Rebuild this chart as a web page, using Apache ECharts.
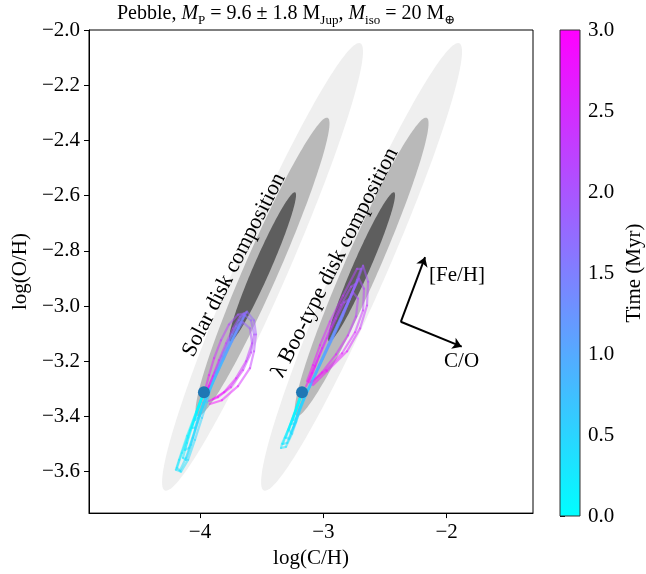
<!DOCTYPE html>
<html><head><meta charset="utf-8">
<script src="https://cdn.jsdelivr.net/npm/echarts@6/dist/echarts.min.js"></script>
<style>html,body{margin:0;padding:0;background:#fff}#c{width:646px;height:574px}</style>
</head><body><div id="c"></div>
<script>
// ---------- data ----------
const xTicks = [-4, -3, -2];
const yTicks = [-3.6, -3.4, -3.2, -3.0, -2.8, -2.6, -2.4, -2.2, -2.0];
const timeRange = [0, 3];
const timeTicks = [0, 0.5, 1, 1.5, 2, 2.5, 3];

// composition ellipses (center, 1-sigma conjugate semi-axes in data units)
const ellipseCenters = [[-3.493, -2.858], [-2.69, -2.858]];
const ellipseMajor = [0.264, 0.270];
const ellipseMinor = [0.0633, -0.0122];
const sigmaLevels = [3, 2, 1];

const planetStart = [[-3.968, -3.312], [-3.173, -3.312]];

// trajectories [logC/H, logO/H, time Myr]
const solarTrackA = [[-3.968,-3.312,0],[-4.016,-3.369,0.08],[-4.081,-3.449,0.16],[-4.146,-3.532,0.24],[-4.187,-3.586,0.3],[-4.162,-3.596,0.34],[-4.114,-3.550,0.4],[-4.057,-3.477,0.46],[-4.000,-3.398,0.53],[-3.951,-3.333,0.6],[-3.919,-3.297,0.65],[-3.854,-3.232,0.85],[-3.781,-3.160,1.05],[-3.708,-3.095,1.25],[-3.651,-3.045,1.45],[-3.619,-3.020,1.65],[-3.562,-3.052,1.85],[-3.546,-3.103,2.0],[-3.562,-3.164,2.2],[-3.595,-3.225,2.4],[-3.692,-3.290,2.6],[-3.822,-3.341,2.8],[-3.919,-3.355,3.0]];
const solarTrackB = [[-3.968,-3.312,0],[-4.008,-3.362,0.08],[-4.057,-3.427,0.16],[-4.105,-3.496,0.24],[-4.122,-3.521,0.3],[-4.089,-3.514,0.35],[-4.041,-3.449,0.42],[-3.992,-3.384,0.5],[-3.943,-3.326,0.6],[-3.903,-3.283,0.75],[-3.830,-3.211,0.95],[-3.757,-3.139,1.15],[-3.692,-3.077,1.35],[-3.643,-3.034,1.55],[-3.627,-3.023,1.7],[-3.676,-3.038,1.9],[-3.732,-3.081,2.1],[-3.789,-3.135,2.3],[-3.846,-3.196,2.5],[-3.895,-3.254,2.7],[-3.935,-3.297,2.9],[-3.959,-3.319,3.0]];
const solarTrackC = [[-3.968,-3.312,0],[-4.000,-3.351,0.1],[-4.041,-3.405,0.2],[-4.065,-3.441,0.28],[-4.041,-3.441,0.33],[-4.008,-3.398,0.42],[-3.968,-3.348,0.52],[-3.927,-3.312,0.62],[-3.895,-3.276,0.8],[-3.813,-3.196,1.0],[-3.740,-3.128,1.2],[-3.684,-3.081,1.45],[-3.651,-3.059,1.7],[-3.595,-3.081,1.95],[-3.578,-3.135,2.2],[-3.627,-3.200,2.4],[-3.708,-3.261,2.6],[-3.805,-3.312,2.8],[-3.895,-3.337,3.0]];
const solarTrackD = [[-3.968,-3.312,0],[-4.024,-3.376,0.1],[-4.097,-3.477,0.2],[-4.138,-3.550,0.28],[-4.114,-3.557,0.32],[-4.073,-3.503,0.4],[-4.024,-3.423,0.48],[-3.976,-3.351,0.58],[-3.911,-3.290,0.7],[-3.846,-3.225,0.9],[-3.773,-3.153,1.1],[-3.708,-3.095,1.35],[-3.667,-3.059,1.6],[-3.708,-3.074,1.85],[-3.765,-3.124,2.1],[-3.822,-3.182,2.35],[-3.878,-3.240,2.6],[-3.927,-3.290,2.85],[-3.951,-3.312,3.0]];
const solarTrackE = [[-3.968,-3.312,0],[-3.992,-3.341,0.1],[-4.024,-3.384,0.2],[-4.041,-3.413,0.26],[-4.016,-3.405,0.3],[-3.976,-3.362,0.38],[-3.935,-3.319,0.5],[-3.878,-3.261,0.7],[-3.805,-3.189,0.9],[-3.732,-3.117,1.1],[-3.676,-3.067,1.35],[-3.635,-3.034,1.6],[-3.586,-3.052,1.8],[-3.562,-3.103,2.0],[-3.586,-3.168,2.2],[-3.651,-3.232,2.4],[-3.749,-3.294,2.6],[-3.854,-3.330,2.8],[-3.927,-3.344,3.0]];
const solarTrackF = [[-3.968,-3.312,0],[-4.032,-3.384,0.08],[-4.105,-3.470,0.16],[-4.170,-3.557,0.24],[-4.195,-3.593,0.3],[-4.154,-3.600,0.33],[-4.097,-3.557,0.38],[-4.041,-3.485,0.45],[-3.984,-3.405,0.52],[-3.943,-3.348,0.6],[-3.919,-3.305,0.7],[-3.870,-3.240,0.9],[-3.805,-3.168,1.1],[-3.740,-3.103,1.3],[-3.684,-3.052,1.5],[-3.643,-3.027,1.75],[-3.692,-3.031,1.95],[-3.765,-3.067,2.15],[-3.830,-3.124,2.35],[-3.886,-3.189,2.55],[-3.927,-3.250,2.75],[-3.959,-3.305,3.0]];
const booTrackA = [[-3.173,-3.312,0],[-3.213,-3.362,0.08],[-3.270,-3.431,0.16],[-3.311,-3.477,0.24],[-3.327,-3.499,0.3],[-3.294,-3.496,0.34],[-3.246,-3.441,0.42],[-3.197,-3.376,0.5],[-3.148,-3.326,0.6],[-3.092,-3.272,0.75],[-3.019,-3.204,0.95],[-2.938,-3.128,1.15],[-2.856,-3.049,1.35],[-2.784,-2.973,1.55],[-2.727,-2.912,1.75],[-2.678,-2.854,1.95],[-2.637,-2.912,2.1],[-2.646,-2.998,2.3],[-2.702,-3.081,2.45],[-2.808,-3.164,2.6],[-2.970,-3.236,2.8],[-3.084,-3.286,3.0]];
const booTrackB = [[-3.173,-3.312,0],[-3.205,-3.355,0.08],[-3.246,-3.405,0.16],[-3.278,-3.449,0.24],[-3.262,-3.459,0.3],[-3.221,-3.420,0.38],[-3.181,-3.362,0.48],[-3.140,-3.319,0.58],[-3.075,-3.261,0.75],[-3.002,-3.189,0.95],[-2.921,-3.114,1.15],[-2.840,-3.034,1.35],[-2.775,-2.962,1.55],[-2.727,-2.905,1.75],[-2.694,-2.865,1.9],[-2.727,-2.865,2.05],[-2.840,-2.962,2.3],[-2.946,-3.056,2.5],[-3.027,-3.142,2.7],[-3.084,-3.214,2.85],[-3.132,-3.272,3.0]];
const booTrackC = [[-3.173,-3.312,0],[-3.197,-3.344,0.1],[-3.230,-3.387,0.2],[-3.246,-3.413,0.28],[-3.221,-3.409,0.34],[-3.189,-3.369,0.44],[-3.148,-3.326,0.56],[-3.084,-3.268,0.75],[-3.011,-3.196,0.95],[-2.929,-3.117,1.2],[-2.856,-3.045,1.45],[-2.792,-2.980,1.7],[-2.759,-2.951,1.9],[-2.719,-2.973,2.1],[-2.735,-3.038,2.3],[-2.800,-3.106,2.45],[-2.897,-3.175,2.6],[-3.011,-3.240,2.8],[-3.100,-3.283,3.0]];
const booTrackD = [[-3.173,-3.312,0],[-3.221,-3.369,0.1],[-3.278,-3.441,0.2],[-3.303,-3.477,0.27],[-3.278,-3.481,0.32],[-3.238,-3.434,0.4],[-3.189,-3.369,0.5],[-3.148,-3.323,0.6],[-3.100,-3.279,0.75],[-3.035,-3.214,0.95],[-2.962,-3.142,1.15],[-2.889,-3.070,1.4],[-2.824,-3.009,1.65],[-2.784,-2.973,1.85],[-2.832,-2.987,2.05],[-2.897,-3.045,2.25],[-2.970,-3.117,2.45],[-3.035,-3.182,2.65],[-3.092,-3.243,2.85],[-3.140,-3.290,3.0]];
const booTrackE = [[-3.173,-3.312,0],[-3.197,-3.348,0.1],[-3.238,-3.398,0.2],[-3.262,-3.427,0.26],[-3.238,-3.427,0.31],[-3.197,-3.380,0.4],[-3.157,-3.333,0.52],[-3.108,-3.290,0.7],[-3.043,-3.225,0.9],[-2.970,-3.153,1.1],[-2.889,-3.074,1.35],[-2.816,-3.002,1.6],[-2.751,-2.937,1.85],[-2.711,-2.901,2.0],[-2.670,-2.937,2.15],[-2.678,-3.016,2.35],[-2.743,-3.095,2.5],[-2.848,-3.171,2.65],[-2.978,-3.232,2.8],[-3.100,-3.276,3.0]];
const booTrackF = [[-3.173,-3.312,0],[-3.221,-3.377,0.08],[-3.286,-3.449,0.16],[-3.335,-3.499,0.24],[-3.343,-3.514,0.3],[-3.303,-3.510,0.34],[-3.254,-3.463,0.4],[-3.205,-3.398,0.48],[-3.157,-3.341,0.58],[-3.116,-3.297,0.7],[-3.059,-3.240,0.9],[-2.986,-3.168,1.1],[-2.913,-3.095,1.3],[-2.840,-3.023,1.5],[-2.775,-2.959,1.7],[-2.735,-2.919,1.85],[-2.775,-2.930,2.0],[-2.856,-2.995,2.2],[-2.938,-3.074,2.4],[-3.011,-3.153,2.6],[-3.067,-3.218,2.8],[-3.116,-3.276,3.0]];

const annotations = [
  {name: 'Solar disk composition', value: [-3.724, -2.851]},
  {name: 'λ Boo-type disk composition', value: [-2.905, -2.843]}
];
const arrowOrigin = [-2.372, -3.057];
const feHTip = [-2.175, -2.823];
const coTip = [-1.878, -3.147];
const arrowLabels = [
  {name: '[Fe/H]', value: [-1.916, -2.890]},
  {name: 'C/O', value: [-1.879, -3.200]}
];

// ---------- chart ----------
const F = "'Liberation Serif', 'DejaVu Serif', serif";
const fmtNeg = d => v => (v < 0 ? '\u2212' : '') + Math.abs(v).toFixed(d);

const ellipseData = [];
const greys = {3: '#efefef', 2: '#b9b9b9', 1: '#5e5e5e'};
sigmaLevels.forEach(s => ellipseCenters.forEach(c => ellipseData.push([c[0], c[1], s])));

function segments(track) {
  const out = [];
  for (let i = 1; i < track.length; i++) {
    const a = track[i - 1], b = track[i];
    out.push([a[0], a[1], (a[2] + b[2]) / 2, b[0], b[1]]);
  }
  return out;
}
const segData = [].concat(
  segments(solarTrackA), segments(solarTrackB), segments(solarTrackC), segments(solarTrackD),
  segments(solarTrackE), segments(solarTrackF),
  segments(booTrackA), segments(booTrackB), segments(booTrackC), segments(booTrackD),
  segments(booTrackE), segments(booTrackF)
);

const chart = echarts.init(document.getElementById('c'), null, {renderer: 'canvas'});
chart.setOption({
  animation: false,
  backgroundColor: '#fff',
  title: {
    left: 117, top: 0, padding: 0,
    text: '{n|Pebble, }{i|M}{s|P}{n| = 9.6 ± 1.8 M}{s|Jup}{n|, }{i|M}{s|iso}{n| = 20 M}{s|⊕}',
    textStyle: {
      fontWeight: 'normal',
      rich: {
        n: {fontFamily: F, fontSize: 20, fontWeight: 'normal', color: '#000', lineHeight: 27, verticalAlign: 'middle'},
        i: {fontFamily: F, fontSize: 20, fontWeight: 'normal', color: '#000', fontStyle: 'italic', lineHeight: 27, verticalAlign: 'middle'},
        s: {fontFamily: F, fontSize: 13, fontWeight: 'normal', color: '#000', lineHeight: 27, verticalAlign: 'bottom'}
      }
    }
  },
  grid: [
    {left: 89, right: 113, top: 30, bottom: 58, show: true, borderColor: '#000', borderWidth: 1, backgroundColor: 'transparent'},
    {left: 560, width: 25, top: 30, height: 486}
  ],
  xAxis: [
    {gridIndex: 0, type: 'value', min: -4.9, max: -1.3,
     axisLine: {show: true, onZero: false, lineStyle: {color: '#000', width: 1}},
     axisTick: {show: true, customValues: xTicks, length: 5, lineStyle: {color: '#000'}},
     axisLabel: {customValues: xTicks, formatter: fmtNeg(0), fontFamily: F, fontSize: 21, color: '#000', margin: 9},
     splitLine: {show: false},
     name: 'log(C/H)', nameLocation: 'middle', nameGap: 34,
     nameTextStyle: {fontFamily: F, fontSize: 21, color: '#000'}},
    {gridIndex: 1, type: 'value', min: 0, max: 1, show: false}
  ],
  yAxis: [
    {gridIndex: 0, type: 'value', min: -3.75, max: -2.0,
     axisLine: {show: true, onZero: false, lineStyle: {color: '#000', width: 1}},
     axisTick: {show: true, customValues: yTicks, length: 5, lineStyle: {color: '#000'}},
     axisLabel: {customValues: yTicks, formatter: fmtNeg(1), fontFamily: F, fontSize: 21, color: '#000', margin: 9},
     splitLine: {show: false},
     name: 'log(O/H)', nameLocation: 'middle', nameGap: 58, nameRotate: 90,
     nameTextStyle: {fontFamily: F, fontSize: 21, color: '#000'}},
    {gridIndex: 1, type: 'value', min: timeRange[0], max: timeRange[1], position: 'right',
     axisLine: {show: false},
     axisTick: {show: true, customValues: timeTicks, length: 5, lineStyle: {color: '#000'}},
     axisLabel: {customValues: timeTicks, formatter: v => v.toFixed(1), fontFamily: F, fontSize: 21, color: '#000', margin: 8},
     splitLine: {show: false},
     name: 'Time (Myr)', nameLocation: 'middle', nameGap: 44, nameRotate: 90,
     nameTextStyle: {fontFamily: F, fontSize: 21, color: '#000'}}
  ],
  visualMap: {
    type: 'continuous', show: false, min: timeRange[0], max: timeRange[1], dimension: 2,
    seriesIndex: 1, inRange: {color: ['#00ffff', '#ff00ff']}
  },
  series: [
    { // ellipses
      type: 'custom', xAxisIndex: 0, yAxisIndex: 0, silent: true,
      data: ellipseData,
      renderItem: (params, api) => {
        const cx = api.value(0), cy = api.value(1), s = api.value(2);
        const pts = [];
        for (let k = 0; k <= 160; k++) {
          const th = 2 * Math.PI * k / 160, co = Math.cos(th), sn = Math.sin(th);
          pts.push(api.coord([cx + s * (co * ellipseMajor[0] + sn * ellipseMinor[0]),
                              cy + s * (co * ellipseMajor[1] + sn * ellipseMinor[1])]));
        }
        return {type: 'polygon', shape: {points: pts}, style: {fill: greys[s], stroke: null}};
      }
    },
    { // trajectories
      type: 'custom', xAxisIndex: 0, yAxisIndex: 0, silent: true,
      data: segData,
      renderItem: (params, api) => {
        const p1 = api.coord([api.value(0), api.value(1)]);
        const p2 = api.coord([api.value(3), api.value(4)]);
        return {type: 'line', shape: {x1: p1[0], y1: p1[1], x2: p2[0], y2: p2[1]},
                style: {stroke: api.visual('color'), lineWidth: 2.2, opacity: 0.5, lineCap: 'round'}};
      }
    },
    { // starting points
      type: 'scatter', xAxisIndex: 0, yAxisIndex: 0, silent: true,
      data: planetStart, symbolSize: 12, itemStyle: {color: '#1f77b4', opacity: 1}, z: 5
    },
    { // annotations
      type: 'scatter', xAxisIndex: 0, yAxisIndex: 0, silent: true, symbolSize: 0,
      data: annotations, z: 6, itemStyle: {opacity: 1},
      label: {show: true, formatter: '{b}', position: [0, 0], align: 'center', verticalAlign: 'middle',
              rotate: 63, fontFamily: F, fontSize: 22, color: '#000', opacity: 1}
    },
    { // arrows
      type: 'lines', coordinateSystem: 'cartesian2d', xAxisIndex: 0, yAxisIndex: 0, silent: true,
      symbol: ['none', 'arrow'], symbolSize: 9, z: 6,
      lineStyle: {color: '#000', width: 2, opacity: 1, curveness: 0},
      data: [{coords: [arrowOrigin, feHTip]}, {coords: [arrowOrigin, coTip]}]
    },
    { // arrow labels
      type: 'scatter', xAxisIndex: 0, yAxisIndex: 0, silent: true, symbolSize: 0,
      data: arrowLabels, z: 6, itemStyle: {opacity: 1},
      label: {show: true, formatter: '{b}', position: [0, 0], align: 'center', verticalAlign: 'middle',
              fontFamily: F, fontSize: 21, color: '#000', opacity: 1}
    },
    { // colorbar
      type: 'custom', xAxisIndex: 1, yAxisIndex: 1, silent: true,
      data: [[0, timeRange[0], 1, timeRange[1]]],
      renderItem: (params, api) => {
        const p0 = api.coord([api.value(0), api.value(1)]);
        const p1 = api.coord([api.value(2), api.value(3)]);
        return {type: 'rect',
          shape: {x: p0[0], y: p1[1], width: p1[0] - p0[0], height: p0[1] - p1[1]},
          style: {fill: new echarts.graphic.LinearGradient(0, 1, 0, 0,
                   [{offset: 0, color: '#00ffff'}, {offset: 1, color: '#ff00ff'}]),
                  stroke: '#333', lineWidth: 1}};
      }
    }
  ]
});
</script>
</body></html>
